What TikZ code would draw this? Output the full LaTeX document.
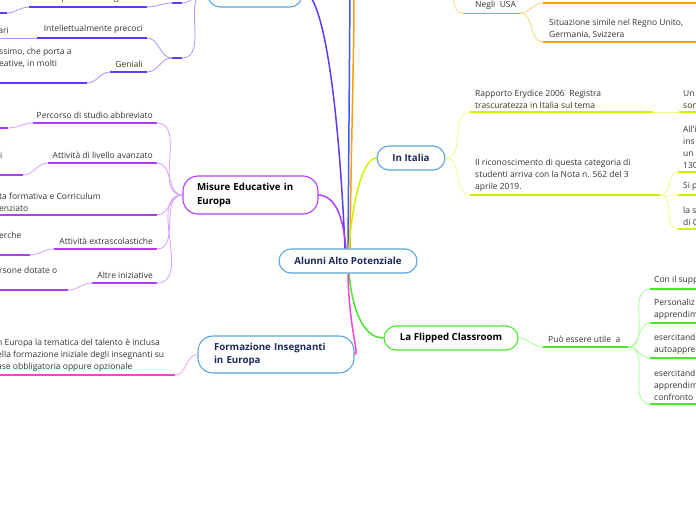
\documentclass[tikz,border=0pt]{standalone}
\usepackage{fontspec}
\setmainfont{Open Sans}
\usepackage{tikz}

\definecolor{nodeblue}{HTML}{5AA5DC}
\definecolor{navy}{HTML}{1B2A5C}
\definecolor{leafgray}{HTML}{333333}
\definecolor{cInd}{HTML}{5A3CFF}
\definecolor{cIndL}{HTML}{A597FF}
\definecolor{cBlu}{HTML}{3B5BFF}
\definecolor{cOra}{HTML}{FF9D0A}
\definecolor{cOraL}{HTML}{FFCF80}
\definecolor{cLim}{HTML}{D2F000}
\definecolor{cLimL}{HTML}{E8FF88}
\definecolor{cVio}{HTML}{B03CFF}
\definecolor{cVioL}{HTML}{D69CFF}
\definecolor{cGre}{HTML}{48E828}
\definecolor{cGreL}{HTML}{A4FF94}
\definecolor{cPin}{HTML}{FF3FD9}
\definecolor{cPinL}{HTML}{FF9CF0}

\begin{document}
\begin{tikzpicture}[x=1pt, y=-1pt,
  topic/.style={draw=nodeblue, fill=white, line width=1.1pt, rounded corners=12pt, font=\fontsize{9.7}{13.5}\selectfont\bfseries, text=navy, inner sep=0pt},
  leaf/.style={font=\fontsize{8.5}{12}\selectfont, text=leafgray, inner sep=0pt, align=left},
  main/.style={line width=1.5pt},
  sub/.style={line width=0.8pt},
  uline/.style={line width=1.9pt}]
\useasboundingbox (0,0) rectangle (696,520);
\clip (0,0) rectangle (696,520);

% topics
\node[topic, minimum width=138, minimum height=24] (root) at (348,261) {Alunni Alto Potenziale};
\node[topic, minimum width=94, minimum height=32] (tl) at (255,-9) {};
\node[topic, draw=cVio, text=black, text width=107, align=left, minimum width=135, minimum height=38, rounded corners=15pt] (mis) at (250.5,195) {Misure Educative in\\Europa};
\node[topic, text width=124, align=left, minimum width=156, minimum height=37, rounded corners=15pt] (form) at (276,354.5) {Formazione Insegnanti\\in Europa};
\node[topic, minimum width=68, minimum height=24] (ita) at (411,158) {In Italia};
\node[topic, draw=cGre, text=black, minimum width=134, minimum height=24] (flip) at (451,338) {La Flipped Classroom};

% branches from the root
\draw[main, cInd] ([xshift=-3]root.north) .. controls (338,90) and (322,-9) .. (tl.east);
\coordinate (blu-top) at (350,-5);
\coordinate (ora-top) at (354,-5);
\draw[main, cBlu] ([xshift=0]root.north) -- (blu-top);
\draw[main, cOra] ([xshift=2]root.north) .. controls (351,150) and (354,60) .. (ora-top);
\draw[main, cLim] ([xshift=1]root.north) .. controls (352,205) and (362,158) .. (ita.west);
\draw[main, cVio] ([xshift=-2]root.north) .. controls (343,215) and (335,196) .. (mis.east);
\draw[main, cGre] ([xshift=1]root.south) .. controls (354,325) and (370,338) .. (flip.west);
\draw[main, cPin] (root.south) .. controls (349,330) and (360,355) .. (form.east);

% top left topic
\coordinate (kA-l) at (172,3);  \coordinate (kA-r) at (182,3);
\coordinate (kB-l) at (172,58); \coordinate (kB-r) at (182,58);
\draw[uline, cInd] (kA-l) -- (kA-r);
\draw[uline, cInd] (kB-l) -- (kB-r);
\draw[sub, cIndL] (tl.west) to[out=180, in=0] (kA-r);
\draw[sub, cIndL] (tl.west) to[out=180, in=0] (kB-r);

\coordinate (cog-l) at (29,7);  \coordinate (cog-r) at (147,7);
\coordinate (cog1-l) at (-5,13); \coordinate (cog1-r) at (7,13);
\coordinate (pre-l) at (37,38); \coordinate (pre-r) at (147,38);
\coordinate (pre1-l) at (-5,38); \coordinate (pre1-r) at (12,38);
\coordinate (gen-l) at (110,72); \coordinate (gen-r) at (147,72);
\coordinate (gen1-l) at (-5,83); \coordinate (gen1-r) at (87,83);
\draw[uline, cInd] (cog-l) -- (cog-r);
\draw[uline, cInd] (cog1-l) -- (cog1-r);
\draw[uline, cInd] (pre-l) -- (pre-r);
\draw[sub, cIndL] (pre1-l) -- (pre1-r);
\draw[uline, cInd] (gen-l) -- (gen-r);
\draw[uline, cInd] (gen1-l) -- (gen1-r);
\draw[sub, cIndL] (kA-l) to[out=180, in=0] (cog-r);
\draw[sub, cIndL] (cog-l) to[out=180, in=0] (cog1-r);
\draw[sub, cIndL] (kB-l) to[out=180, in=0] (pre-r);
\draw[sub, cIndL] (pre-l) -- (pre1-r);
\draw[sub, cIndL] (kB-l) to[out=180, in=0] (gen-r);
\draw[sub, cIndL] (gen-l) to[out=180, in=0] (gen1-r);
\node[leaf, anchor=south east] (cog) at (141,2.5) {Ad alto potenziale cognitivo};
\node[leaf, anchor=south east] (pre1) at (9,34) {ari};
\node[leaf, anchor=south east] (pre) at (143,34) {Intellettualmente precoci};
\node[leaf, anchor=south east] (gen) at (143,68) {Geniali};
\node[leaf, anchor=north west] (gen1) at (-1,47.5) {ssimo, che porta a\\eative, in molti};

% Misure Educative in Europa
\coordinate (pc-l) at (33,123);  \coordinate (pc-r) at (157,123);
\coordinate (pc1-l) at (-5,128); \coordinate (pc1-r) at (8,128);
\coordinate (alv-l) at (48,163); \coordinate (alv-r) at (157,163);
\coordinate (alv1-l) at (-5,175); \coordinate (alv1-r) at (23,175);
\coordinate (off-l) at (-5,215); \coordinate (off-r) at (157,215);
\coordinate (ext-l) at (54,249); \coordinate (ext-r) at (157,249);
\coordinate (ext1-l) at (-5,255); \coordinate (ext1-r) at (30,255);
\coordinate (alt-l) at (92,283); \coordinate (alt-r) at (157,283);
\coordinate (alt1-l) at (-5,290); \coordinate (alt1-r) at (68,290);
\foreach \u in {pc,pc1,alv,alv1,off,ext,ext1,alt,alt1}
  \draw[uline, cVio] (\u-l) -- (\u-r);
\foreach \u in {pc,alv,off,ext,alt}
  \draw[sub, cVioL] (mis.west) to[out=180, in=0] (\u-r);
\draw[sub, cVioL] (pc-l) to[out=180, in=0] (pc1-r);
\draw[sub, cVioL] (alv-l) to[out=180, in=0] (alv1-r);
\draw[sub, cVioL] (ext-l) to[out=180, in=0] (ext1-r);
\draw[sub, cVioL] (alt-l) to[out=180, in=0] (alt1-r);
\node[leaf, anchor=south east] (pc) at (153,119) {Percorso di studio abbreviato};
\node[leaf, anchor=south east] (alv) at (153,159) {Attività di livello avanzato};
\node[leaf, anchor=base west] (alv1) at (0,158) {i};
\node[leaf, anchor=south west] (off) at (-1,211.5) {ta formativa e Corriculum\\enziato};
\node[leaf, anchor=south east] (ext) at (153,245) {Attività extrascolastiche};
\node[leaf, anchor=base west] (ext1) at (-1,238) {erche};
\node[leaf, anchor=south east] (alt) at (153,279) {Altre iniziative};
\node[leaf, anchor=base west] (alt1) at (-1,273) {rsone dotate o};

% Formazione Insegnanti in Europa
\coordinate (ins-l) at (-5,375); \coordinate (ins-r) at (175,375);
\draw[uline, cPin] (ins-l) -- (ins-r);
\draw[sub, cPinL] (form.west) to[out=180, in=0] (ins-r);
\node[leaf, anchor=south west] (ins) at (-3,371.5) {n Europa la tematica del talento è inclusa\\ella formazione iniziale degli insegnanti su\\ase obbligatoria oppure opzionale};

% In Italia
\coordinate (rap-l) at (470,112); \coordinate (rap-r) at (653,112);
\coordinate (rap1-l) at (679,112); \coordinate (rap1-r) at (700,112);
\coordinate (ric-l) at (470,195); \coordinate (ric-r) at (660,195);
\coordinate (ric1-l) at (678,172); \coordinate (ric1-r) at (700,172);
\coordinate (ric2-l) at (678,195); \coordinate (ric2-r) at (700,195);
\coordinate (ric3-l) at (678,229); \coordinate (ric3-r) at (700,229);
\foreach \u in {rap,rap1,ric,ric1,ric2,ric3}
  \draw[uline, cLim] (\u-l) -- (\u-r);
\draw[sub, cLimL] (ita.east) to[out=0, in=180] (rap-l);
\draw[sub, cLimL] (ita.east) to[out=0, in=180] (ric-l);
\draw[sub, cLimL] (rap-r) -- (rap1-l);
\foreach \u in {ric1,ric2,ric3}
  \draw[sub, cLimL] (ric-r) to[out=0, in=180] (\u-l);
\node[leaf, anchor=south west] (rap) at (475,108.5) {Rapporto Erydice 2006\ \ Registra\\trascuratezza in Italia sul tema};
\node[leaf, anchor=south west] (rap1) at (683,108.5) {Un\\son};
\node[leaf, anchor=south west] (ric) at (475,191.5) {Il riconoscimento di questa categoria di\\studenti arriva con la Nota n. 562 del 3\\aprile 2019.};
\node[leaf, anchor=south west] (ric1) at (683,168.5) {All’i\\ins\\un\\130};
\node[leaf, anchor=south west] (ric2) at (683,191) {Si p};
\node[leaf, anchor=south west] (ric3) at (683,225.5) {la s\\di C};

% orange topic (above the frame)
\coordinate (usa-par) at (443,-25);
\coordinate (usa-l) at (463,13);  \coordinate (usa-r) at (520,13);
\coordinate (usa1-l) at (543,3);  \coordinate (usa1-r) at (700,3);
\coordinate (usa2-l) at (543,42); \coordinate (usa2-r) at (700,42);
\draw[sub, cOra] (usa-l) -- (usa-r);
\draw[uline, cOra] (usa1-l) -- (usa1-r);
\draw[uline, cOra] (usa2-l) -- (usa2-r);
\draw[sub, cOraL] (usa-par) to[out=0, in=180] (usa-l);
\draw[sub, cOraL] (usa-r) to[out=0, in=180] (usa1-l);
\draw[sub, cOraL] (usa-r) to[out=0, in=180] (usa2-l);
\node[leaf, anchor=south west] (usa) at (475,9.5) {Negli\ \ USA};
\node[leaf, anchor=south west] (usa2) at (549,38.5) {Situazione simile nel Regno Unito,\\Germania, Svizzera};

% La Flipped Classroom
\coordinate (ute-l) at (543,347); \coordinate (ute-r) at (628,347);
\coordinate (fc1-l) at (650,289); \coordinate (fc1-r) at (700,289);
\coordinate (fc2-l) at (650,323); \coordinate (fc2-r) at (700,323);
\coordinate (fc3-l) at (650,358); \coordinate (fc3-r) at (700,358);
\coordinate (fc4-l) at (650,404); \coordinate (fc4-r) at (700,404);
\foreach \u in {ute,fc1,fc2,fc3,fc4}
  \draw[uline, cGre] (\u-l) -- (\u-r);
\draw[sub, cGreL] (flip.east) to[out=0, in=180] (ute-l);
\foreach \u in {fc1,fc2,fc3,fc4}
  \draw[sub, cGreL] (ute-r) to[out=0, in=180] (\u-l);
\node[leaf, anchor=south west] (ute) at (548,343) {Può essere utile\ \ a};
\node[leaf, anchor=south west] (fc1) at (654,285) {Con il supp};
\node[leaf, anchor=south west] (fc2) at (654,319.5) {Personaliz\\apprendim};
\node[leaf, anchor=south west] (fc3) at (654,354.5) {esercitand\\autoappre};
\node[leaf, anchor=south west] (fc4) at (654,400.5) {esercitand\\apprendim\\confronto};
\end{tikzpicture}
\end{document}
